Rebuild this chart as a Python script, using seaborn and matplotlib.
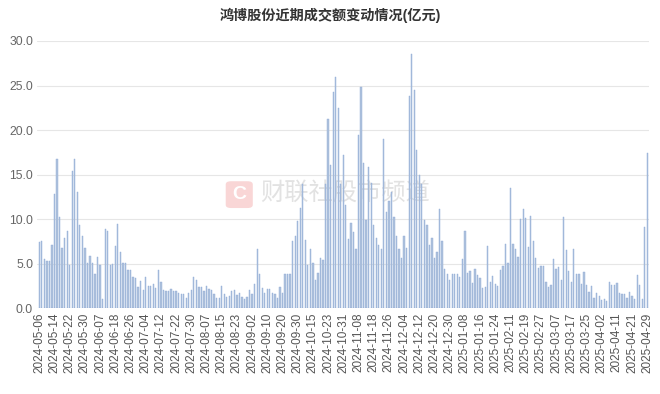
import pandas as pd
import numpy as np
import seaborn as sns
import matplotlib.pyplot as plt
from matplotlib.patches import FancyBboxPatch

# ---------------------------
# Data (亿元)
# ---------------------------
holidays = ['2024-06-10', '2024-09-16', '2024-09-17',
            '2024-10-01', '2024-10-02', '2024-10-03', '2024-10-04', '2024-10-07',
            '2025-01-01', '2025-01-28', '2025-01-29', '2025-01-30', '2025-01-31',
            '2025-02-03', '2025-02-04', '2025-04-04']

days = pd.bdate_range('2024-05-06', '2025-04-29')
days = days[~days.isin(pd.to_datetime(holidays))]
dates = [d.strftime('%Y-%m-%d') for d in days]

volume = [
    7.4, 7.5, 5.5, 5.3, 5.3, 7.1, 12.8, 16.8, 10.3, 6.8, 7.9, 8.7, 4.9, 15.4, 16.7, 13.1,
    9.3, 8.1, 6.8, 5.1, 5.9, 5.1, 3.9, 5.8, 4.9, 1.0, 8.9, 8.7, 4.9, 5.0, 7.0, 9.5,
    6.3, 5.1, 5.1, 4.3, 4.3, 3.5, 3.4, 2.4, 3.1, 2.1, 3.5, 2.5, 2.5, 2.7, 2.3, 4.3,
    2.9, 2.0, 1.9, 1.9, 2.2, 1.9, 1.9, 1.7, 1.6, 1.6, 1.2, 1.7, 2.0, 3.5, 3.2, 2.4,
    2.4, 1.9,
    2.5, 2.2, 2.0, 1.6, 1.2, 1.2, 2.5, 1.6, 1.3, 1.4, 1.9, 2.0, 1.5, 1.75, 1.3, 1.0,
    1.3, 2.0, 1.6, 2.7, 6.6, 3.9, 2.3, 1.7, 2.2, 2.2, 1.7, 1.6, 1.2, 2.35, 1.7, 3.9,
    3.8, 3.8,
    7.6, 8.1, 9.8, 11.3, 13.9, 7.7, 4.9, 6.6, 5.1, 3.2, 4.0, 5.6, 5.4, 13.9, 21.3, 16.1,
    24.3, 26.0, 22.5, 13.9, 17.2, 11.6, 7.8, 9.6, 8.6, 6.7, 19.5, 24.8, 16.3, 9.9, 15.9,
    14.1, 9.4,
    7.9, 7.1, 6.7, 19.0, 10.8, 12.0, 13.0, 10.3, 8.1, 6.6, 5.6, 8.1, 6.8, 23.8, 28.5,
    24.5, 17.8, 15.0, 14.0, 9.9, 9.3, 7.1, 7.9, 5.7, 6.3, 11.2, 7.6, 4.4, 3.8, 3.2,
    3.8, 3.8, 3.8, 3.5,
    5.5, 8.7, 4.0, 4.2, 2.8, 4.4, 3.7, 3.4, 2.3, 2.4, 7.0, 2.9, 3.6, 2.7, 2.5, 4.3,
    4.7, 7.2, 5.1, 13.5, 7.2, 6.7, 5.8, 10.0, 11.1, 10.1, 6.9, 10.4, 7.5, 5.6, 4.5,
    4.8, 4.8, 3.0, 2.4, 2.6, 5.5, 4.4, 4.6, 3.2, 10.3, 6.5, 4.2, 2.9, 6.7, 3.8, 3.8,
    2.7, 4.1, 2.6, 1.8, 2.5, 1.2, 1.7, 1.4, 0.9, 1.1, 0.8,
    2.9, 2.6, 2.6, 2.8, 1.7, 1.6, 1.6, 1.2, 1.8, 1.4, 1.0, 3.7, 2.6, 1.1, 9.1, 17.4,
]

y_ticks = [0, 5, 10, 15, 20, 25, 30]
title = "鸿博股份近期成交额变动情况(亿元)"

df = pd.DataFrame({'date': dates, 'volume': volume})

# ---------------------------
# Plot
# ---------------------------
sns.set_theme(style="white")
plt.rcParams['font.family'] = ['Liberation Sans', 'Noto Sans CJK SC', 'DejaVu Sans']

fig = plt.figure(figsize=(6.6, 3.94), dpi=100)
ax = fig.add_axes([0.0565, 0.2175, 0.9273, 0.6785])

sns.barplot(
    data=df,
    x='date',
    y='volume',
    color='#a8c0e4',
    width=0.5,
    edgecolor='#8eaad6',
    linewidth=0.3,
    ax=ax,
    zorder=3
)

ax.set_xlim(-0.8, len(dates) - 0.2)
ax.set_ylim(0, 30)
ax.set_yticks(y_ticks)
ax.set_yticklabels([f"{v:.1f}" for v in y_ticks], fontsize=8.7, color='#666666')
ax.yaxis.grid(True, color='#e6e6e6', linewidth=0.8, zorder=0)
ax.set_axisbelow(True)

tick_pos = list(range(0, len(dates), 6))
ax.set_xticks(tick_pos)
ax.set_xticklabels([dates[i] for i in tick_pos], rotation=90, fontsize=8.5, color='#555555')
ax.tick_params(axis='both', length=0, pad=3)
ax.set_xlabel("")
ax.set_ylabel("")
for s in ax.spines.values():
    s.set_visible(False)

# watermark (behind the bars)
ax.text(0.523, 0.51, "财联社股市频道", fontsize=17.5, color='#e2e2e2',
        ha='center', va='center', transform=fig.transFigure, zorder=1)
logo = FancyBboxPatch((0.344, 0.474), 0.037, 0.064, boxstyle="round,pad=0.002,rounding_size=0.008",
                      transform=fig.transFigure, facecolor='#f9d6d6', edgecolor='none',
                      zorder=1, clip_on=False)
ax.add_patch(logo)
ax.text(0.3625, 0.506, "C", fontsize=14, color='white', fontweight='bold',
        ha='center', va='center', transform=fig.transFigure, zorder=1.5)

fig.text(0.5, 0.962, title, fontsize=10.2, fontweight='bold', color='#333333',
         ha='center', va='center')

plt.savefig("out.png", dpi=100)
plt.close()
